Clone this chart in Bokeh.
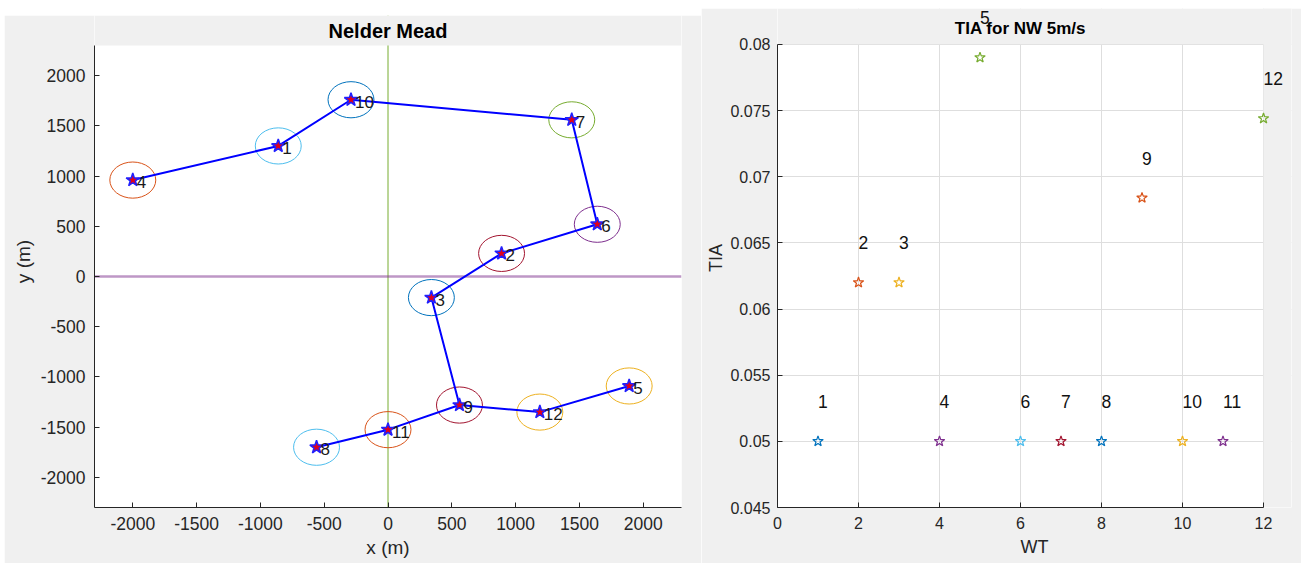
from bokeh.plotting import figure
from bokeh.models import (ColumnDataSource, LabelSet, Label, Span, FixedTicker,
                          BoxAnnotation, Range1d)
from bokeh.core.properties import value
from bokeh.layouts import row
from bokeh.embed import file_html
from bokeh.resources import INLINE

# ---------------- data ----------------
wt_ids = [1, 2, 3, 4, 5, 6, 7, 8, 9, 10, 11, 12]
wt_x = [-860, 890, 340, -2000, 1890, 1640, 1440, -560, 560, -290, 0, 1190]
wt_y = [1300, 230, -210, 960, -1090, 520, 1560, -1700, -1280, 1760, -1525, -1350]
circle_colors = ["#4DBEEE", "#A2142F", "#0072BD", "#D95319", "#EDB120", "#7E2F8E",
                 "#77AC30", "#4DBEEE", "#A2142F", "#0072BD", "#D95319", "#EDB120"]
circle_diam = 360
path_a = [4, 1, 10, 7, 6, 2, 3, 9, 12, 5]
path_b = [9, 11, 8]

tia = [0.05, 0.062, 0.062, 0.05, 0.079, 0.05, 0.05, 0.05, 0.0684, 0.05, 0.05, 0.0744]
tia_colors = ["#0072BD", "#D95319", "#EDB120", "#7E2F8E", "#77AC30", "#4DBEEE",
              "#A2142F", "#0072BD", "#D95319", "#EDB120", "#7E2F8E", "#77AC30"]
tia_label_offset = 0.003

xy_lim = (-2300, 2300)
xy_ticks = [-2000, -1500, -1000, -500, 0, 500, 1000, 1500, 2000]
xy_tick_labels = ["-2000", "-1500", "-1000", "-500", "0", "500", "1000", "1500", "2000"]
wt_lim = (0, 12)
wt_ticks = [0, 2, 4, 6, 8, 10, 12]
tia_lim = (0.045, 0.08)
tia_ticks = [0.045, 0.05, 0.055, 0.06, 0.065, 0.07, 0.075, 0.08]
tia_tick_labels = ["0.045", "0.05", "0.055", "0.06", "0.065", "0.07", "0.075", "0.08"]

FONT = "Liberation Sans"
AX = "#262626"
BG = "#f0f0f0"


def style(p, tick_size, label_size):
    p.outline_line_color = None
    for ax in (p.xaxis[0], p.yaxis[0]):
        ax.axis_line_color = AX
        ax.major_tick_line_color = AX
        ax.major_tick_in = 5
        ax.major_tick_out = 0
        ax.minor_tick_line_color = None
        ax.major_label_text_font = FONT
        ax.major_label_text_font_size = tick_size
        ax.major_label_text_color = AX
        ax.axis_label_text_font = FONT
        ax.axis_label_text_font_size = label_size
        ax.axis_label_text_font_style = "normal"
        ax.axis_label_text_color = AX


# ---------------- left: Nelder Mead layout ----------------
L_W, L_H = 697, 548
L_left, L_right, L_bottom = 90, 20, 56
L_head = 30
L_fh = L_H - L_bottom - L_head
y1_end = xy_lim[1] + L_head * (xy_lim[1] - xy_lim[0]) / L_fh
p1 = figure(width=L_W, height=L_H, x_range=Range1d(*xy_lim), y_range=Range1d(xy_lim[0], y1_end),
            output_backend="svg", toolbar_location=None,
            min_border_left=L_left, min_border_right=L_right, min_border_top=0,
            min_border_bottom=L_bottom,
            background_fill_color="white", border_fill_color=BG)
style(p1, "17.5px", "19px")
p1.xaxis.axis_label = "x (m)"
p1.yaxis.axis_label = "y (m)"
p1.xaxis.ticker = FixedTicker(ticks=xy_ticks)
p1.yaxis.ticker = FixedTicker(ticks=xy_ticks)
p1.yaxis.bounds = xy_lim
p1.xaxis.major_label_overrides = dict(zip(xy_ticks, xy_tick_labels))
p1.yaxis.major_label_overrides = dict(zip(xy_ticks, xy_tick_labels))
p1.xaxis.major_label_standoff = 9
p1.yaxis.major_label_standoff = 9
p1.xaxis.axis_label_standoff = 4
p1.yaxis.axis_label_standoff = 4
p1.grid.grid_line_color = None

p1.add_layout(Span(location=0, dimension="height", line_color="#77AC30", line_width=1, level="underlay"))
p1.add_layout(Span(location=0, dimension="width", line_color="#7E2F8E", line_alpha=0.5,
                   line_width=2.5, level="underlay"))
p1.add_layout(BoxAnnotation(bottom=xy_lim[1], fill_color=BG, fill_alpha=1, line_color=None,
                            level="underlay"))

src = ColumnDataSource(dict(x=wt_x, y=wt_y, c=circle_colors, t=[str(i) for i in wt_ids]))
p1.ellipse(x="x", y="y", width=circle_diam, height=circle_diam, source=src,
           fill_color=None, line_color="c", line_width=1)

idx = {k: i for i, k in enumerate(wt_ids)}
for path in (path_a, path_b):
    p1.line([wt_x[idx[k]] for k in path], [wt_y[idx[k]] for k in path],
            line_color="#0000FF", line_width=2)

p1.scatter(x="x", y="y", source=src, marker="star", size=14,
           fill_color="#E0001B", line_color="#2020FF", line_width=1.5)
p1.add_layout(LabelSet(x="x", y="y", text="t", source=src, x_offset=4, y_offset=-2,
                       text_baseline="middle", text_align="left", text_font=value(FONT),
                       text_font_size="17px", text_color="#1a1a1a"))
p1.add_layout(Label(x=(xy_lim[0] + xy_lim[1]) / 2, y=xy_lim[1], y_offset=15, text="Nelder Mead",
                    text_align="center", text_baseline="middle", text_font=FONT,
                    text_font_size="20px", text_font_style="bold", text_color="black"))

# ---------------- right: TIA ----------------
R_W, R_H = 600, 555
R_left, R_bottom = 76, 54
R_fw, R_fh = 486, 465          # data area
R_head, R_extra = 36, 28       # headroom above / room right of the data area
x2_end = wt_lim[1] + R_extra * (wt_lim[1] - wt_lim[0]) / R_fw
y2_end = tia_lim[1] + R_head * (tia_lim[1] - tia_lim[0]) / R_fh
p2 = figure(width=R_W, height=R_H, x_range=Range1d(wt_lim[0], x2_end),
            y_range=Range1d(tia_lim[0], y2_end),
            output_backend="svg", toolbar_location=None,
            min_border_left=R_left, min_border_right=R_W - R_left - R_fw - R_extra,
            min_border_top=0, min_border_bottom=R_bottom,
            background_fill_color="white", border_fill_color=BG)
style(p2, "16px", "18px")
p2.xaxis.axis_label = "WT"
p2.yaxis.axis_label = "TIA"
p2.xaxis.ticker = FixedTicker(ticks=wt_ticks)
p2.yaxis.ticker = FixedTicker(ticks=tia_ticks)
p2.xaxis.bounds = wt_lim
p2.yaxis.bounds = tia_lim
p2.yaxis.major_label_overrides = dict(zip(tia_ticks, tia_tick_labels))
p2.xaxis.major_label_standoff = 9
p2.yaxis.major_label_standoff = 7
p2.xaxis.axis_label_standoff = 5
p2.yaxis.axis_label_standoff = 1
p2.grid.grid_line_color = "#dedede"
p2.grid.grid_line_width = 1
p2.add_layout(BoxAnnotation(bottom=tia_lim[1], fill_color=BG, fill_alpha=1, line_color=None,
                            level="underlay"))
p2.add_layout(BoxAnnotation(left=wt_lim[1], fill_color=BG, fill_alpha=1, line_color=None,
                            level="underlay"))

src2 = ColumnDataSource(dict(x=wt_ids, y=tia, c=tia_colors, t=[str(i) for i in wt_ids]))
p2.scatter(x="x", y="y", source=src2, marker="star", size=11,
           fill_color=None, line_color="c", line_width=1.2)
for i, t in zip(wt_ids, tia):
    p2.add_layout(Label(x=i, y=t + tia_label_offset, text=str(i),
                        text_baseline="middle", text_align="left", text_font=FONT,
                        text_font_size="17.5px", text_color="#111111"))
p2.add_layout(Label(x=(wt_lim[0] + wt_lim[1]) / 2, y=tia_lim[1], y_offset=16,
                    text="TIA for NW 5m/s", text_align="center", text_baseline="middle",
                    text_font=FONT, text_font_size="17px", text_font_style="bold",
                    text_color="black"))

p1.margin = (15, 0, 0, 4)
p2.margin = (8, 0, 0, 0)
layout = row(p1, p2)
open("out.html", "w").write(file_html(layout, INLINE))
